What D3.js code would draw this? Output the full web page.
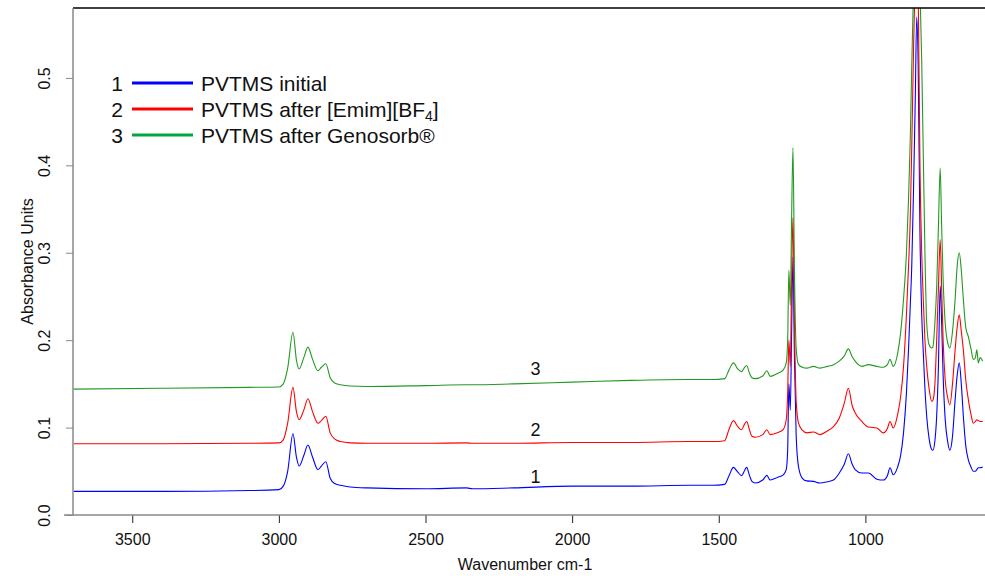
<!DOCTYPE html>
<html>
<head>
<meta charset="utf-8">
<script src="https://cdn.jsdelivr.net/npm/d3@7/dist/d3.min.js"></script>
<style>
  body { margin: 0; background: #fff; }
  text { font-family: Arial, "Liberation Sans", sans-serif; }
</style>
</head>
<body>
<div id="chart"></div>
<script>
// wavenumber grid (cm-1)
const wavenumbers = [3700, 3400, 3100, 3000, 2985, 2970, 2952, 2940, 2931, 2915, 2901, 2885, 2867, 2855, 2840, 2825, 2810, 2790, 2757, 2700, 2500, 2360, 2340, 2200, 2000, 1800, 1600, 1520, 1480, 1465, 1450, 1435, 1422, 1412, 1405, 1395, 1387, 1376, 1350, 1336, 1325, 1300, 1280, 1270, 1265, 1261, 1256, 1252, 1247, 1242, 1236, 1228, 1215, 1200, 1177, 1155, 1130, 1109, 1089, 1072, 1058, 1045, 1035, 1012, 990, 961, 939, 925, 916, 905, 890, 880, 870, 860, 853, 847, 842, 836, 830, 825, 820, 814, 808, 803, 797, 791, 783, 774, 770, 763, 757, 751, 745, 740, 735, 728, 720, 712, 703, 694, 687, 680, 673, 666, 658, 649, 640, 632, 625, 620, 615, 609, 600];

// 1 - PVTMS initial
const absInitial = [0.027, 0.027, 0.028, 0.029, 0.033, 0.050, 0.093, 0.066, 0.056, 0.068, 0.080, 0.066, 0.052, 0.056, 0.061, 0.042, 0.036, 0.034, 0.032, 0.031, 0.030, 0.031, 0.030, 0.031, 0.033, 0.033, 0.034, 0.034, 0.035, 0.045, 0.0545, 0.049, 0.045, 0.051, 0.0545, 0.045, 0.0385, 0.0366, 0.040, 0.0453, 0.040, 0.043, 0.046, 0.052, 0.075, 0.15, 0.12, 0.20, 0.295, 0.18, 0.09, 0.055, 0.042, 0.039, 0.0385, 0.0366, 0.038, 0.040, 0.048, 0.058, 0.070, 0.058, 0.052, 0.048, 0.048, 0.041, 0.040, 0.045, 0.054, 0.046, 0.055, 0.068, 0.094, 0.14, 0.189, 0.24, 0.284, 0.37, 0.475, 0.57, 0.513, 0.323, 0.23, 0.189, 0.145, 0.113, 0.088, 0.075, 0.074, 0.085, 0.113, 0.17, 0.262, 0.22, 0.16, 0.11, 0.085, 0.074, 0.09, 0.132, 0.16, 0.174, 0.15, 0.113, 0.08, 0.063, 0.055, 0.050, 0.050, 0.052, 0.054, 0.054, 0.055];

// 2 - PVTMS after [Emim][BF4]
const absEmim = [0.0815, 0.0815, 0.082, 0.0825, 0.086, 0.105, 0.146, 0.118, 0.109, 0.120, 0.133, 0.118, 0.105, 0.108, 0.113, 0.094, 0.087, 0.084, 0.0825, 0.082, 0.082, 0.0825, 0.082, 0.082, 0.083, 0.083, 0.084, 0.084, 0.085, 0.098, 0.108, 0.101, 0.0976, 0.104, 0.107, 0.097, 0.090, 0.089, 0.092, 0.0976, 0.092, 0.094, 0.098, 0.109, 0.14, 0.20, 0.17, 0.26, 0.34, 0.22, 0.13, 0.105, 0.097, 0.094, 0.095, 0.092, 0.096, 0.101, 0.111, 0.128, 0.145, 0.125, 0.117, 0.107, 0.1007, 0.0995, 0.094, 0.099, 0.107, 0.0995, 0.115, 0.135, 0.17, 0.23, 0.284, 0.34, 0.42, 0.53, 0.62, 0.66, 0.60, 0.40, 0.30, 0.25, 0.20, 0.17, 0.145, 0.130, 0.131, 0.15, 0.20, 0.26, 0.315, 0.26, 0.20, 0.155, 0.135, 0.126, 0.15, 0.189, 0.215, 0.229, 0.21, 0.189, 0.155, 0.132, 0.115, 0.105, 0.107, 0.109, 0.108, 0.107, 0.107];

// 3 - PVTMS after Genosorb
const absGenosorb = [0.144, 0.145, 0.146, 0.1465, 0.150, 0.168, 0.209, 0.177, 0.167, 0.180, 0.192, 0.178, 0.165, 0.169, 0.173, 0.157, 0.151, 0.149, 0.1475, 0.147, 0.148, 0.149, 0.149, 0.150, 0.152, 0.154, 0.155, 0.155, 0.156, 0.166, 0.174, 0.167, 0.164, 0.169, 0.171, 0.162, 0.157, 0.156, 0.159, 0.165, 0.1586, 0.162, 0.166, 0.174, 0.20, 0.28, 0.24, 0.33, 0.42, 0.28, 0.19, 0.172, 0.169, 0.168, 0.170, 0.168, 0.170, 0.172, 0.176, 0.182, 0.19, 0.181, 0.176, 0.170, 0.172, 0.170, 0.169, 0.172, 0.178, 0.170, 0.185, 0.208, 0.247, 0.30, 0.361, 0.43, 0.513, 0.60, 0.68, 0.70, 0.67, 0.60, 0.52, 0.42, 0.30, 0.22, 0.195, 0.191, 0.192, 0.22, 0.26, 0.33, 0.397, 0.33, 0.27, 0.22, 0.198, 0.191, 0.21, 0.247, 0.285, 0.30, 0.28, 0.247, 0.215, 0.204, 0.19, 0.178, 0.18, 0.189, 0.174, 0.18, 0.176];

const seriesNames = ["PVTMS initial", "PVTMS after [Emim][BF4]", "PVTMS after Genosorb®"];
const seriesNumbers = ["1", "2", "3"];
const xTicks = [3500, 3000, 2500, 2000, 1500, 1000];
const yTicks = [0.0, 0.1, 0.2, 0.3, 0.4, 0.5];

const width = 985, height = 576;
const margin = { top: 8, right: 2, bottom: 61, left: 73 };
const innerWidth = width - margin.left - margin.right;
const innerHeight = height - margin.top - margin.bottom;

const svg = d3.select("#chart").append("svg")
  .attr("width", width)
  .attr("height", height);

const g = svg.append("g")
  .attr("transform", `translate(${margin.left},${margin.top})`);

// reversed wavenumber axis
const x = d3.scaleLinear().domain([3702, 599]).range([0, innerWidth]);
const y = d3.scaleLinear().domain([0, 0.58]).range([innerHeight, 0]);

g.append("clipPath").attr("id", "plot-clip")
  .append("rect").attr("width", innerWidth).attr("height", innerHeight);

const colors = ["#0000ff", "#ff0000", "#229a22"];
const legendColors = ["#0000ff", "#ff0000", "#00a844"];
const allSeries = [absInitial, absEmim, absGenosorb];

const line = d3.line()
  .x(d => x(d[0]))
  .y(d => y(d[1]))
  .curve(d3.curveMonotoneX);

allSeries.forEach((vals, i) => {
  g.append("path")
    .datum(wavenumbers.map((w, j) => [w, vals[j]]))
    .attr("clip-path", "url(#plot-clip)")
    .attr("fill", "none")
    .attr("stroke", colors[i])
    .attr("stroke-width", 1.1)
    .attr("d", line);
});

// top border
g.append("line")
  .attr("x1", 0).attr("x2", innerWidth + margin.right)
  .attr("y1", 0).attr("y2", 0)
  .attr("stroke", "#000").attr("stroke-width", 1.5);

// X axis
const xAxis = g.append("g")
  .attr("transform", `translate(0,${innerHeight})`)
  .call(d3.axisBottom(x).tickValues(xTicks).tickSize(8).tickSizeOuter(0).tickFormat(d3.format("d")));
xAxis.select(".domain").remove();
xAxis.append("line")
  .attr("x1", -9).attr("x2", innerWidth + margin.right)
  .attr("stroke", "#888").attr("stroke-width", 1.5);
xAxis.selectAll(".tick line").attr("stroke", "#222");
xAxis.selectAll(".tick text")
  .attr("y", 25)
  .attr("dy", "0.32em")
  .attr("font-size", 16)
  .attr("fill", "#111");

g.append("text")
  .attr("x", innerWidth / 2 - 3)
  .attr("y", innerHeight + 55)
  .attr("text-anchor", "middle")
  .attr("font-size", 16)
  .attr("fill", "#111")
  .text("Wavenumber cm-1");

// Y axis
const yAxis = g.append("g")
  .call(d3.axisLeft(y).tickValues(yTicks).tickSize(7).tickSizeOuter(0).tickFormat(d3.format(".1f")));
yAxis.select(".domain").remove();
yAxis.append("line")
  .attr("y1", 0).attr("y2", innerHeight + 0.5)
  .attr("stroke", "#888").attr("stroke-width", 1.5);
yAxis.selectAll(".tick line").attr("stroke", "#888");
yAxis.selectAll(".tick text")
  .attr("x", 0).attr("dy", 0)
  .attr("transform", "translate(-23,0) rotate(-90)")
  .attr("text-anchor", "middle")
  .attr("font-size", 16)
  .attr("fill", "#111");

g.append("text")
  .attr("transform", "rotate(-90)")
  .attr("x", -innerHeight / 2)
  .attr("y", -40)
  .attr("text-anchor", "middle")
  .attr("font-size", 16)
  .attr("fill", "#111")
  .text("Absorbance Units");

// legend
const legend = svg.append("g");
seriesNames.forEach((name, i) => {
  const cy = 83 + i * 26;
  legend.append("text")
    .attr("x", 123).attr("y", cy + 8)
    .attr("text-anchor", "end")
    .attr("font-size", 21)
    .attr("fill", "#111")
    .text(seriesNumbers[i]);
  legend.append("line")
    .attr("x1", 132).attr("x2", 193)
    .attr("y1", cy).attr("y2", cy)
    .attr("stroke", legendColors[i]).attr("stroke-width", 3);
  const t = legend.append("text")
    .attr("x", 201).attr("y", cy + 8)
    .attr("font-size", 21)
    .attr("fill", "#111");
  if (name.endsWith("[BF4]")) {
    t.append("tspan").text("PVTMS after [Emim][BF");
    t.append("tspan").attr("font-size", 14).attr("dy", 4).text("4");
    t.append("tspan").attr("dy", -4).text("]");
  } else {
    t.text(name);
  }
});

// curve numbers
const curveLabelY = [0.034, 0.088, 0.158];
seriesNumbers.forEach((n, i) => {
  g.append("text")
    .attr("x", x(2125))
    .attr("y", y(curveLabelY[i]) - 2)
    .attr("text-anchor", "middle")
    .attr("font-size", 18)
    .attr("fill", "#111")
    .text(n);
});
</script>
</body>
</html>
